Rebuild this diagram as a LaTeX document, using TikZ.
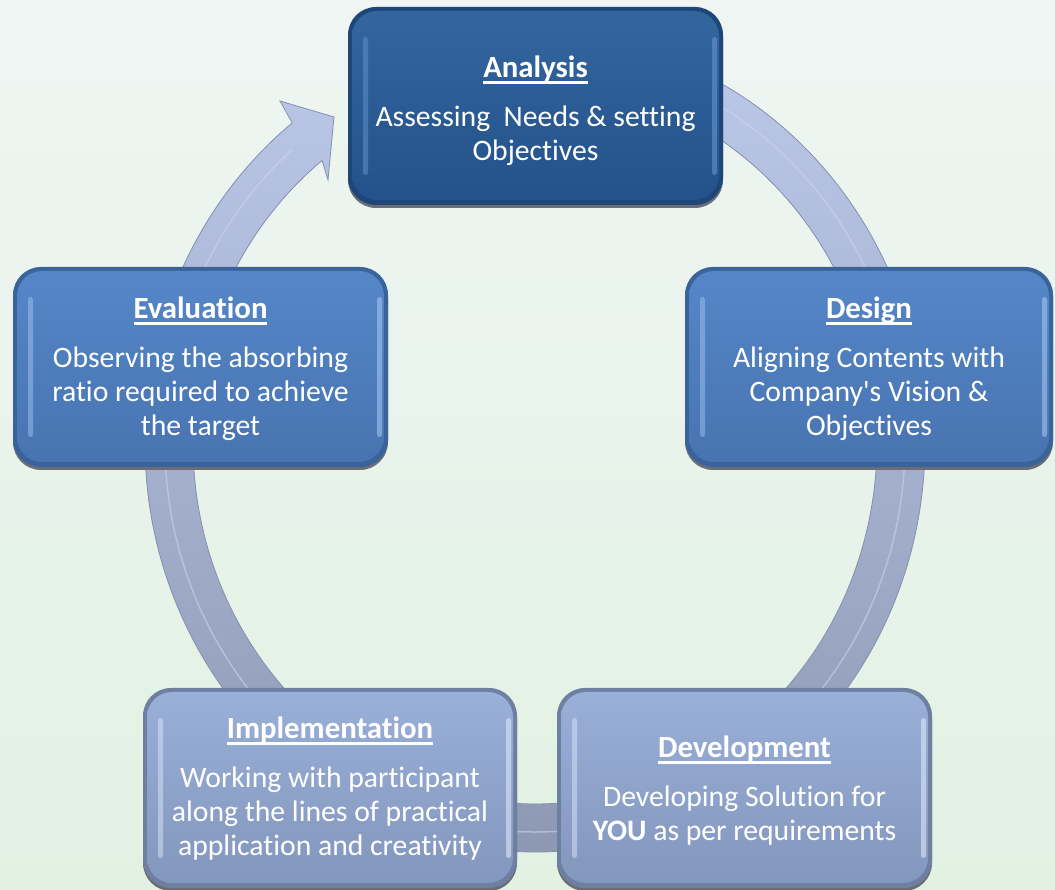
\documentclass[tikz,border=0pt]{standalone}
\usepackage{fontspec}
\setmainfont{Carlito}[Ligatures={NoCommon}]
\usetikzlibrary{calc,shadows}
\definecolor{bgtop}{HTML}{EFF5F3}
\definecolor{bgbot}{HTML}{E1F2E3}
\definecolor{ringtop}{HTML}{BDC9EA}
\definecolor{ringmid}{HTML}{AAB6D5}
\definecolor{ringbot}{HTML}{8C98B2}
\definecolor{ringedge}{HTML}{8490AE}
\definecolor{ringhi}{HTML}{C9D3EE}
% dark box
\definecolor{dEdge}{HTML}{1E4679}
\definecolor{dTop}{HTML}{33669F}
\definecolor{dBot}{HTML}{24518A}
\definecolor{dHi}{HTML}{6A9AD6}
% mid box
\definecolor{mEdge}{HTML}{3A639C}
\definecolor{mTop}{HTML}{5587C8}
\definecolor{mBot}{HTML}{4873B0}
\definecolor{mHi}{HTML}{A9CBF3}
% light box
\definecolor{lEdge}{HTML}{6F7FA2}
\definecolor{lTop}{HTML}{9AB0D9}
\definecolor{lBot}{HTML}{8396BC}
\definecolor{lHi}{HTML}{E4EDFA}
\definecolor{shadowgray}{HTML}{6A6E74}
\newcommand\myul[1]{\leavevmode\setbox0=\hbox{#1}\rlap{\rule[-6.5pt]{\wd0}{3pt}}\box0}
\newcommand\ttl[2]{\rule{0pt}{#1}\myul{\fontsize{30.8}{34}\selectfont\textbf{#2}}}
\tikzset{
  boxbase/.style={rectangle, rounded corners=28pt, minimum height=200pt, inner sep=0pt,
    align=center, text=white, font=\fontsize{29.7}{34}\selectfont,
    drop shadow={shadow xshift=0pt, shadow yshift=-3pt, fill=shadowgray, opacity=1}},
  bevel/.style n args={4}{fill=#1,
    path picture={
      \shade[top color=#2, bottom color=#3, rounded corners=25pt]
        ([shift={(4pt,5pt)}]path picture bounding box.south west) rectangle
        ([shift={(-4pt,-4pt)}]path picture bounding box.north east);
      \fill[#4, opacity=0.45, rounded corners=2.5pt]
        ([shift={(15pt,30pt)}]path picture bounding box.south west) rectangle
        ([shift={(20pt,-30pt)}]path picture bounding box.north west);
      \fill[#4, opacity=0.55, rounded corners=2.5pt]
        ([shift={(-11pt,30pt)}]path picture bounding box.south east) rectangle
        ([shift={(-6pt,-30pt)}]path picture bounding box.north east);
    }},
  darkbox/.style={boxbase, bevel={dEdge}{dTop}{dBot}{dHi}},
  midbox/.style={boxbase, bevel={mEdge}{mTop}{mBot}{mHi}},
  lightbox/.style={boxbase, bevel={lEdge}{lTop}{lBot}{lHi}},
  ring/.style={top color=ringtop, middle color=ringmid, bottom color=ringbot, draw=ringedge, line width=0.8pt},
}
\begin{document}
\begin{tikzpicture}[x=1pt,y=1pt]
\useasboundingbox (0,0) rectangle (1055,890);
\shade[top color=bgtop, bottom color=bgbot] (0,0) rectangle (1055,890);
\clip (0,0) rectangle (1055,890);
\coordinate (c) at (535,447);
\coordinate (barbout) at (280,789);
\coordinate (tip) at (334,773);
\coordinate (barbin) at (328,710);
% circular arrow
\shadedraw[ring]
  ($(c)+(85:390 and 409)$) arc[start angle=85, end angle=-231.5, x radius=390, y radius=409]
  -- (barbout) -- (tip) -- (barbin)
  -- ($(c)+(-231.5:342 and 361)$) arc[start angle=-231.5, end angle=85, x radius=342, y radius=361] -- cycle;
\draw[ringhi, line width=1.5pt, opacity=0.6]
  ($(c)+(85:370 and 389)$) arc[start angle=85, end angle=-229, x radius=370, y radius=389];
% boxes
\node[darkbox, minimum width=375pt, minimum height=198pt] (ana) at (535.5,784)
  {\ttl{30.5pt}{Analysis}\\[15pt]Assessing\ \ Needs \& setting\\Objectives};
\node[midbox, minimum width=375pt] (eva) at (200.5,523)
  {\ttl{24.5pt}{Evaluation}\\[15pt]Observing the absorbing\\ratio required to achieve\\the target};
\node[midbox, minimum width=368pt] (des) at (869,523)
  {\ttl{24.5pt}{Design}\\[15pt]Aligning Contents with\\Company\textquotesingle s Vision \&\\Objectives};
\node[lightbox, minimum width=374pt] (imp) at (330,102)
  {\ttl{22.5pt}{Implementation}\\[15pt]Working with participant\\along the lines of practical\\application and creativity};
\node[lightbox, minimum width=375pt] (dev) at (744.5,102)
  {\ttl{26.5pt}{Development}\\[15pt]Developing Solution for\\\textbf{YOU} as per requirements};
\end{tikzpicture}
\end{document}
